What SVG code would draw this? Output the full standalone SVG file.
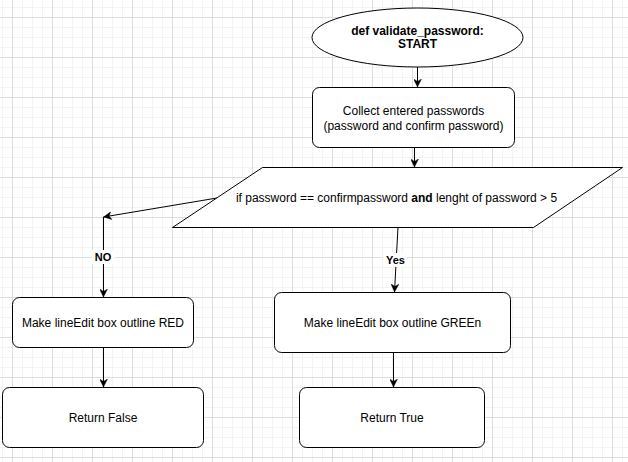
<svg xmlns="http://www.w3.org/2000/svg" width="628" height="462" viewBox="0 0 628 462">
<style>
.shape{fill:#ffffff;stroke:#000000;stroke-width:1}
.t{font-family:"Liberation Sans",Arial,sans-serif;font-size:12px;fill:#000000;text-anchor:middle}
.b{font-weight:bold}
.edge{fill:none;stroke:#000000;stroke-width:1}
.lbl{font-family:"Liberation Sans",Arial,sans-serif;font-size:11px;font-weight:bold;fill:#000000;text-anchor:middle}
</style>
<defs>
<pattern id="grid" x="12" y="17" width="40" height="40" patternUnits="userSpaceOnUse">
<rect x="10" y="0" width="1" height="40" fill="#f3f3f3"/>
<rect x="20" y="0" width="1" height="40" fill="#f3f3f3"/>
<rect x="30" y="0" width="1" height="40" fill="#f3f3f3"/>
<rect x="0" y="10" width="40" height="1" fill="#f3f3f3"/>
<rect x="0" y="20" width="40" height="1" fill="#f3f3f3"/>
<rect x="0" y="30" width="40" height="1" fill="#f3f3f3"/>
<rect x="0" y="0" width="1" height="40" fill="#dedede"/>
<rect x="0" y="0" width="40" height="1" fill="#dedede"/>
</pattern>
<marker id="arrow" viewBox="0 0 10 10" refX="10" refY="5" markerWidth="8" markerHeight="8" markerUnits="userSpaceOnUse" orient="auto">
<path d="M0,0 L10,5 L0,10 L3,5 Z" fill="#000000" stroke="#000000" stroke-width="0.5"/>
</marker>
</defs>
<rect x="0" y="0" width="628" height="462" fill="#ffffff"/>
<rect x="0" y="0" width="628" height="462" fill="url(#grid)"/>

<g id="connectors">
<line class="edge" x1="417.5" y1="67" x2="417.5" y2="87" marker-end="url(#arrow)"/>
<line class="edge" x1="414.5" y1="147" x2="414.5" y2="167" marker-end="url(#arrow)"/>
<line class="edge" x1="217" y1="198" x2="103.5" y2="217" marker-end="url(#arrow)"/>
<line class="edge" x1="103.5" y1="217" x2="103.5" y2="297" marker-end="url(#arrow)"/>
<line class="edge" x1="398" y1="227" x2="394.5" y2="292" marker-end="url(#arrow)"/>
<line class="edge" x1="103.5" y1="347" x2="103.5" y2="387" marker-end="url(#arrow)"/>
<line class="edge" x1="393.5" y1="352" x2="393.5" y2="387" marker-end="url(#arrow)"/>
<rect x="92" y="250" width="23" height="14" fill="#ffffff"/>
<text class="lbl" x="103" y="261">NO</text>
<rect x="383" y="253" width="24" height="14" fill="#ffffff"/>
<text class="lbl" x="395.5" y="264">Yes</text>
</g>

<g id="start">
<ellipse class="shape" cx="417.5" cy="37.5" rx="105.5" ry="29.5"/>
<text class="t b" x="417.5" y="35">def validate_password:</text>
<text class="t b" x="417.5" y="48">START</text>
</g>

<g id="collect">
<rect class="shape" x="312.5" y="87.5" width="202" height="60" rx="7" ry="7"/>
<text class="t" x="413.5" y="115">Collect entered passwords</text>
<text class="t" x="413.5" y="130">(password and confirm password)</text>
</g>

<g id="decision">
<polygon class="shape" points="262.5,167.5 622.5,167.5 533.5,227.5 172.5,227.5"/>
<text class="t" x="396.5" y="202">if password == confirmpassword <tspan class="b">and</tspan> lenght of password &gt; 5</text>
</g>

<g id="red">
<rect class="shape" x="12.5" y="297.5" width="181" height="50" rx="7" ry="7"/>
<text class="t" x="103" y="327">Make lineEdit box outline RED</text>
</g>

<g id="green">
<rect class="shape" x="274.5" y="292.5" width="236" height="60" rx="7" ry="7"/>
<text class="t" x="392.5" y="327">Make lineEdit box outline GREEn</text>
</g>

<g id="false">
<rect class="shape" x="2.5" y="387.5" width="201" height="60" rx="7" ry="7"/>
<text class="t" x="103" y="422">Return False</text>
</g>

<g id="true">
<rect class="shape" x="299.5" y="387.5" width="185" height="60" rx="7" ry="7"/>
<text class="t" x="392" y="422">Return True</text>
</g>
</svg>
